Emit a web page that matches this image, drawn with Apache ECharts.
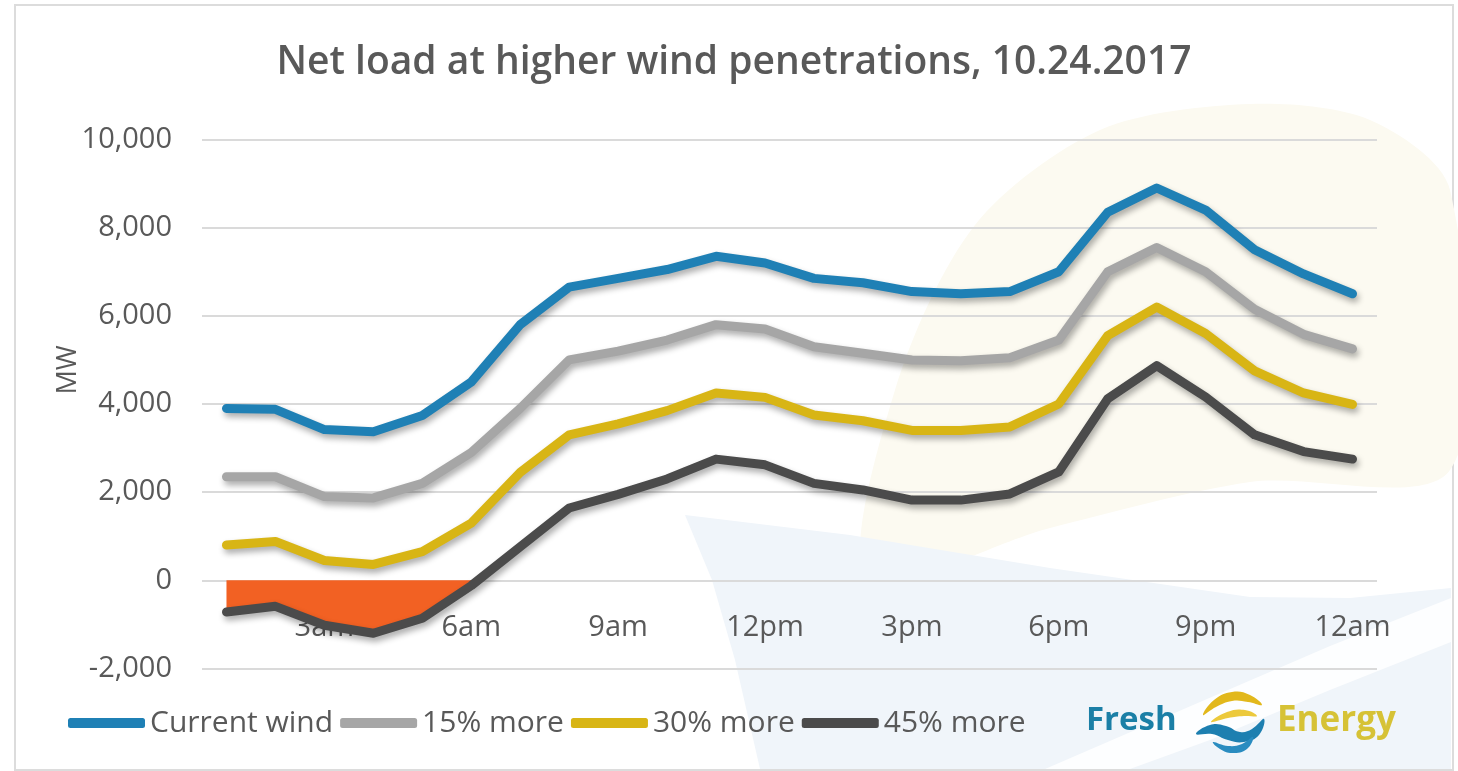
<!DOCTYPE html>
<html>
<head>
<meta charset="utf-8">
<script src="https://cdn.jsdelivr.net/npm/echarts@6/dist/echarts.min.js"></script>
<style>
  html, body { margin: 0; padding: 0; background: #ffffff; }
  #chart { width: 1458px; height: 771px; }
</style>
</head>
<body>
<div id="chart"></div>
<script>
// Hourly net load (MW) for 10.24.2017 under increasing wind penetration
const hours = ['1am','2am','3am','4am','5am','6am','7am','8am','9am','10am','11am','12pm',
               '1pm','2pm','3pm','4pm','5pm','6pm','7pm','8pm','9pm','10pm','11pm','12am'];
const currentWind = [3900, 3880, 3420, 3370, 3740, 4500, 5800, 6650, 6850, 7050, 7350, 7200,
                     6850, 6750, 6550, 6500, 6550, 7000, 8350, 8900, 8400, 7500, 6950, 6500];
const more15 = [2350, 2350, 1900, 1870, 2200, 2900, 3900, 5000, 5200, 5450, 5800, 5700,
                5300, 5150, 5000, 4980, 5050, 5450, 7000, 7550, 7000, 6150, 5580, 5250];
const more30 = [800, 880, 450, 360, 650, 1300, 2450, 3300, 3550, 3850, 4250, 4150,
                3750, 3620, 3400, 3400, 3480, 4000, 5550, 6200, 5600, 4750, 4250, 3990];
const more45 = [-720, -590, -1020, -1200, -860, -120, 760, 1640, 1950, 2300, 2750, 2620,
                2200, 2050, 1820, 1820, 1960, 2460, 4120, 4870, 4160, 3300, 2920, 2750];
const seriesNames = ['Current wind', '15% more', '30% more', '45% more'];
const seriesColors = ['#1f80b5', '#a6a6a6', '#d8b515', '#4b4b4b'];
const yTicks = { min: -2000, max: 10000, step: 2000 };

// Hours where the 45% case drops below zero are shaded
const negativeLoad = more45.map(v => (v < 0 ? v : '-'));

const FONT = '"Open Sans", "Noto Sans", sans-serif';
const TEXT = '#595959';

// Plot area; the hour labels sit on the zero line, so the category axis is
// pulled up from the bottom edge by the height of the -2,000..0 band.
const GRID = { left: 202, right: 81, top: 139.5, bottom: 102.5 };
const plotHeight = 771 - GRID.top - GRID.bottom;
const zeroOffset = -plotHeight * (0 - yTicks.min) / (yTicks.max - yTicks.min);

const chart = echarts.init(document.getElementById('chart'), null, { renderer: 'canvas' });

function lineSeries(name, data, color) {
  return {
    name: name,
    type: 'line',
    data: data,
    symbol: 'none',
    z: 3,
    lineStyle: {
      color: color, width: 9, cap: 'round', join: 'round',
      shadowColor: 'rgba(0,0,0,0.33)', shadowBlur: 6, shadowOffsetX: 2, shadowOffsetY: 4
    },
    itemStyle: { color: color },
    emphasis: { disabled: true }
  };
}

function blob(points, color) {
  return { type: 'polygon', z: 10, shape: { smooth: 0.45, points: points }, style: { fill: color } };
}

const option = {
  backgroundColor: '#ffffff',
  animation: false,
  textStyle: { fontFamily: FONT },
  graphic: [
    // frame
    { type: 'rect', z: -5, shape: { x: 15, y: 5, width: 1438, height: 765 },
      style: { fill: '#ffffff', stroke: '#dcdcdc', lineWidth: 2 } },
    // faint logo watermark
    { type: 'polygon', z: -4,
      shape: { smooth: 0.3, points: [[868,578],[895,390],[975,225],[1100,130],[1250,104],[1370,120],[1450,190],[1450,470],[1250,482],[1050,528]] },
      style: { fill: '#fcfaf1' } },
    { type: 'polygon', z: -4,
      shape: { points: [[685,515],[850,535],[1050,568],[1250,597],[1350,598],[1451,588],[1451,769],[760,769],[735,660],[712,580]] },
      style: { fill: '#f0f5fa' } },
    { type: 'polygon', z: -3,
      shape: { points: [[1045,769],[1200,702],[1330,646],[1451,598],[1451,642],[1330,690],[1210,740],[1130,769]] },
      style: { fill: '#ffffff', opacity: 0.85 } },
    // title
    { type: 'text', x: 734, y: 63, z: 10,
      style: { text: 'Net load at higher wind penetrations, 10.24.2017', fill: TEXT,
               font: '600 39px ' + FONT, textAlign: 'center', textVerticalAlign: 'middle' } },
    // y-axis unit
    { type: 'text', x: 68, y: 370, rotation: Math.PI / 2, z: 10,
      style: { text: 'MW', fill: TEXT, font: '27px ' + FONT, textAlign: 'center', textVerticalAlign: 'middle' } },
    // brand mark
    { type: 'text', x: 1086, y: 721, z: 10,
      style: { text: 'Fresh', fill: '#1b7fa6', font: 'bold 33px ' + FONT, textVerticalAlign: 'middle' } },
    { type: 'text', x: 1277, y: 721, z: 10,
      style: { text: 'Energy', fill: '#d6c236', font: 'bold 35px ' + FONT, textVerticalAlign: 'middle' } },
    blob([[1203,715],[1214,700],[1232,692],[1250,695],[1262,705],[1248,702],[1232,701],[1216,707]], '#e2b81c'),
    blob([[1211,722],[1227,712],[1245,710],[1257,716],[1244,716],[1228,718]], '#ecc93c'),
    blob([[1196,734],[1210,725],[1226,726],[1240,732],[1252,729],[1264,719],[1259,735],[1244,742],[1228,740],[1212,734]], '#1d7fb0'),
    blob([[1213,742],[1228,746],[1242,744],[1253,737],[1247,749],[1232,753],[1220,749]], '#2a8cc0')
  ],
  legend: {
    data: seriesNames,
    left: 63,
    top: 703,
    itemWidth: 77,
    itemHeight: 10,
    itemGap: 7,
    icon: 'roundRect',
    textStyle: { color: TEXT, fontSize: 30, fontFamily: FONT },
    selectedMode: false
  },
  grid: { left: GRID.left, right: GRID.right, top: GRID.top, bottom: GRID.bottom, containLabel: false },
  xAxis: {
    type: 'category',
    data: hours,
    boundaryGap: true,
    position: 'bottom',
    offset: zeroOffset,
    axisLine: { show: false, onZero: false },
    axisTick: { show: false },
    splitLine: { show: false },
    axisLabel: {
      color: TEXT, fontSize: 29, fontFamily: FONT, margin: 33,
      interval: function (index) { return index % 3 === 2; }
    }
  },
  yAxis: {
    type: 'value',
    min: yTicks.min, max: yTicks.max, interval: yTicks.step,
    axisLine: { show: false },
    axisTick: { show: false },
    splitLine: { lineStyle: { color: '#dadada', width: 2 } },
    axisLabel: {
      color: TEXT, fontSize: 29, fontFamily: FONT, margin: 30,
      formatter: v => v.toLocaleString('en-US')
    }
  },
  series: [
    {
      name: 'negative',
      type: 'line',
      data: negativeLoad,
      symbol: 'none',
      z: 2,
      lineStyle: { width: 0 },
      areaStyle: { color: '#f26123', opacity: 1 },
      emphasis: { disabled: true }
    },
    lineSeries(seriesNames[0], currentWind, seriesColors[0]),
    lineSeries(seriesNames[1], more15, seriesColors[1]),
    lineSeries(seriesNames[2], more30, seriesColors[2]),
    lineSeries(seriesNames[3], more45, seriesColors[3])
  ]
};

chart.setOption(option);
</script>
</body>
</html>
